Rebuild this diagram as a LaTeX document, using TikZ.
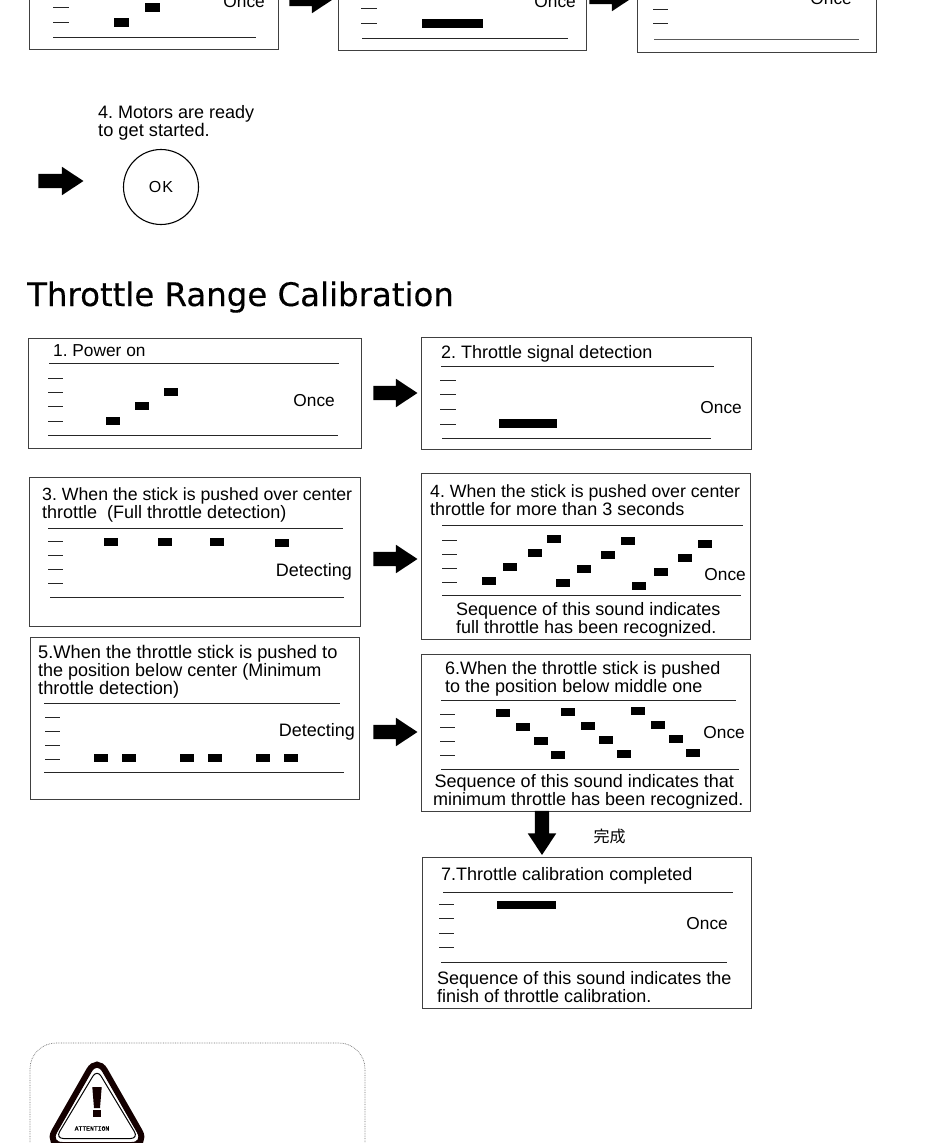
\documentclass[tikz,border=0pt]{standalone}
\usepackage{fontspec}
\setmainfont{Liberation Sans}
\newfontfamily\cjkjp{Noto Sans CJK JP}
\newfontfamily\titlef[FakeBold=0.3]{DejaVu Sans}
\newfontfamily\monof[FakeBold=1.5]{Liberation Mono}
\usetikzlibrary{shapes.arrows}
\frenchspacing
\tikzset{
  panel/.style={draw=black!75,line width=0.9pt,fill=none,inner sep=0pt,rectangle},
  rule/.style={draw=black!85,line width=0.9pt},
  tick/.style={draw=black!85,line width=1pt},
  lbl/.style={anchor=base west,inner sep=0pt,font=\fontsize{18}{18}\selectfont},
  lblsmall/.style={lbl,font=\fontsize{17.7}{18}\selectfont},
  lblwide/.style={lbl,font=\fontsize{18.25}{18}\selectfont},
  lblr/.style={anchor=base east,inner sep=0pt,font=\fontsize{18}{18}\selectfont},
  lblonce/.style={lblr,font=\fontsize{17.3}{18}\selectfont},
  blockarrow/.style={single arrow,fill=black,draw=none,inner sep=0pt,minimum height=44pt,minimum width=28pt,single arrow head extend=7pt,single arrow tip angle=67},
}
\newcommand{\shaft}{\phantom{\rule{14pt}{14pt}}}
\newcommand{\bx}[5]{%
  \pgfmathsetmacro{\mw}{#4-#2}\pgfmathsetmacro{\mh}{#5-#3}%
  \pgfmathsetmacro{\cx}{(#4+#2)/2}\pgfmathsetmacro{\cy}{(#5+#3)/2}%
  \node[panel,minimum width=\mw pt,minimum height=\mh pt] (#1) at (\cx,\cy) {};}
\newcommand{\ticks}[3]{\foreach \yy in {#3} {\draw[tick] (#1,\yy) -- (#2,\yy);}}
\newcommand{\blocks}[3]{\foreach \xx/\yy in {#3} {\fill[black] (\xx,\yy-#2/2) rectangle (\xx+#1,\yy+#2/2);}}
\begin{document}
\begin{tikzpicture}[x=1pt,y=-1pt]
\useasboundingbox (0,0) rectangle (940,1143);
\clip (0,0) rectangle (940,1143);
\fill[white] (0,0) rectangle (940,1143);
% --- top row (cut by the page edge)
\bx{topa}{29}{-30}{278}{49}
\bx{topb}{338}{-30}{586}{50}
\bx{topc}{637}{-30}{876}{52}
\draw[rule] (53,37) -- (256,37);
\draw[rule] (362,38) -- (568,38);
\draw[rule,draw=black!65] (654,39) -- (859,39);
\ticks{53}{69}{7,22}
\ticks{361}{377}{8,23}
\ticks{653}{668}{9,23.5}
\blocks{15}{9}{114/22,145/7}
\blocks{61}{9}{422/23.5}
\node[lblonce] (onceA) at (265,7) {Once};
\node[lblonce] (onceB) at (576,8) {Once};
\node[lblonce] (onceC) at (852,5) {Once};
\node[blockarrow] (arrA) at (306,-1) {\shaft};
\node[blockarrow] (arrB) at (606,-3) {\shaft};
% --- motors ready
\node[lbl] (ready1) at (98,118) {4. Motors are ready};
\node[lblwide] (ready2) at (98,136) {to get started.};
\node[blockarrow,minimum height=45pt] (arrC) at (55.5,181) {\shaft};
\node[draw=black,line width=1.1pt,circle,minimum size=75pt,inner sep=0pt,font=\fontsize{16}{18}\selectfont] (ok) at (161,187) {O\hspace{1pt}K};
% --- title
\node[anchor=base west,inner sep=0pt,font=\titlef\fontsize{32.4}{36}\selectfont] (title) at (27,306) {Throttle Range Calibration};
% --- box 1
\bx{one}{28}{338}{361}{448}
\node[lbl,font=\fontsize{17.3}{18}\selectfont] (oneT) at (53,356) {1. Power on};
\draw[rule] (49,363) -- (339,363);
\draw[rule] (48,435) -- (338,435);
\ticks{48}{63}{378,392,406,421}
\blocks{14}{8}{106/421,135/406,164/392}
\node[lblonce] (oneO) at (335,406) {Once};
% --- box 2
\bx{two}{421}{337}{751}{449}
\node[lbl] (twoT) at (441,358) {2. Throttle signal detection};
\draw[rule] (441,366) -- (714,366);
\draw[rule] (442,438) -- (711,438);
\ticks{440}{456}{380,394,409,424}
\blocks{58}{9}{499/423.5}
\node[lblonce] (twoO) at (742,413) {Once};
% --- box 3
\bx{three}{29}{477}{360}{626}
\node[lblsmall] (threeA) at (42,500) {3. When the stick is pushed over center};
\node[lbl] (threeB) at (42,518) {throttle\ \ (Full throttle detection)};
\draw[rule] (48,528) -- (343,528);
\draw[rule] (50,597) -- (344,597);
\ticks{48}{63}{541,555,569,583}
\blocks{14}{8}{104/541.5,158/541.5,210/541.5,275/543}
\node[lblr] (threeO) at (352,576) {Detecting};
% --- box 4
\bx{four}{421}{473}{750}{639}
\node[lblsmall] (fourA) at (430,497) {4. When the stick is pushed over center};
\node[lbl] (fourB) at (430,515) {throttle for more than 3 seconds};
\draw[rule] (442,525) -- (743,525);
\draw[rule] (442,595) -- (741,595);
\ticks{442}{457}{540,554,568,582}
\blocks{14}{8}{482/581,503/567,528/553,547/539,556/583,577/569,601/555,621/541,632/586,654/572,678/558,698/544}
\node[lblonce] (fourO) at (746,580) {Once};
\node[lbl] (fourC) at (456,615) {Sequence of this sound indicates};
\node[lbl] (fourD) at (456,633) {full throttle has been recognized.};
% --- box 5
\bx{five}{30}{637}{359}{799}
\node[lblwide] (fiveA) at (38,658) {5.When the throttle stick is pushed to};
\node[lbl] (fiveB) at (38,676) {the position below center (Minimum};
\node[lblwide] (fiveC) at (38,694) {throttle detection)};
\draw[rule] (44,703) -- (340,703);
\draw[rule] (44,772) -- (344,772);
\ticks{45}{60}{717,731,745,759}
\blocks{14}{8}{94/758,122/758,180/758,208/758,256/758,284/758}
\node[lblr] (fiveO) at (355,736) {Detecting};
% --- box 6
\bx{six}{421}{654}{750}{811}
\node[lbl] (sixA) at (445,674) {6.When the throttle stick is pushed};
\node[lbl] (sixB) at (445,692) {to the position below middle one};
\draw[rule] (441,700) -- (736,700);
\draw[rule] (441,769) -- (739,769);
\ticks{440}{455}{714,727,741,755}
\blocks{14}{8}{496/713,516/727,534/741,551/755,561/712,581/726,599/740,617/754,631/711,651/725,669/739,686/753}
\node[lblonce] (sixO) at (745,738) {Once};
\node[lbl] (sixC) at (434.5,787) {Sequence of this sound indicates that};
\node[lbl] (sixD) at (433,805) {minimum throttle has been recognized.};
% --- box 7
\bx{seven}{422}{857}{751}{1008}
\node[lbl] (sevenT) at (441,880) {7.Throttle calibration completed};
\draw[rule] (443,892) -- (733,892);
\draw[rule] (441,962) -- (727,962);
\ticks{439}{454}{904,918,933,947}
\blocks{59}{8}{497/904.5}
\node[lblonce] (sevenO) at (728,929) {Once};
\node[lbl] (sevenC) at (437,984) {Sequence of this sound indicates the};
\node[lbl] (sevenD) at (437,1002) {finish of throttle calibration.};
% --- arrows between boxes
\node[blockarrow] (a12) at (390,393) {\shaft};
\node[blockarrow] (a34) at (390,559) {\shaft};
\node[blockarrow] (a56) at (390,732) {\shaft};
\node[blockarrow,shape border rotate=270] (a67) at (542,827.5) {\shaft};
\node[inner sep=0pt,font=\cjkjp\fontsize{16}{16}\selectfont] (done) at (609.5,836.5) {完成};
% --- attention panel
\draw[black!55,densely dotted,line width=0.7pt,rounded corners=26pt] (30,1210) -- (30,1043) -- (365,1043) -- (365,1210);
\draw[black!92!red,line width=6pt,fill=white,rounded corners=16pt] (97,1056.5) -- (147.5,1145) -- (46.5,1145) -- cycle;
\draw[black,line width=1pt,rounded corners=8pt] (97,1069.3) -- (138.5,1138.5) -- (55.5,1138.5) -- cycle;
\fill[black!92!red] (92.3,1087) -- (101.7,1087) -- (100,1108) -- (94,1108) -- cycle;
\fill[black!92!red] (93.3,1110) rectangle (100.7,1117);
\node[inner sep=0pt,font=\monof\fontsize{6.4}{7}\selectfont] (att) at (92,1128.5) {ATTENTION};
\end{tikzpicture}
\end{document}
